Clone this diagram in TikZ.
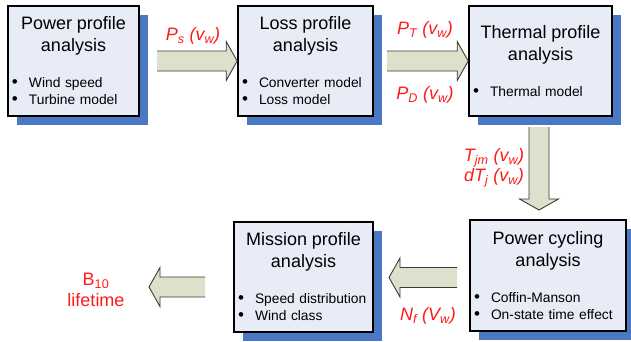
\documentclass[tikz,border=0pt]{standalone}
\usepackage{fontspec}
\setmainfont{Liberation Sans}
\usepackage{tikz}
\usetikzlibrary{calc,shadows}
\definecolor{boxfill}{HTML}{E7ECF7}
\definecolor{boxshadow}{HTML}{4A78C2}
\definecolor{arrowfill}{HTML}{DCE1CB}
\definecolor{arrowline}{HTML}{3A3A3A}
\definecolor{labelred}{HTML}{FF1A1A}
\tikzset{
  stage/.style   = {draw, line width=1.6pt, fill=boxfill, rectangle,
                    drop shadow={shadow xshift=9pt, shadow yshift=-9pt,
                                 fill=boxshadow, opacity=1},
                    inner xsep=4pt, inner ysep=0pt, text width=#1,
                    minimum height=110pt, align=left,
                    font=\fontsize{13.8}{17}\selectfont},
  quantity/.style = {text=labelred, align=center,
                    font=\fontsize{18}{20}\selectfont\itshape},
  shaftline/.style = {draw=arrowline, line width=0.9pt, line join=miter},
}
\newcommand{\stagehead}[1]{{\centering\fontsize{18}{22}\selectfont #1\par}\vspace{19pt}}
\newcommand{\stageitem}[1]{\makebox[17pt][l]{\fontsize{17}{17}\selectfont\textbullet}#1\par}
\newcommand{\fatarrow}[2]{%
  \coordinate (fa-base) at ($(#2)!11pt!(#1)$);
  \fill[arrowfill] ($(#1)!10pt!90:(#2)$) -- ($(fa-base)!10pt!90:(#2)$)
    -- ($(fa-base)!19.5pt!90:(#2)$) -- (#2) -- ($(fa-base)!19.5pt!-90:(#2)$)
    -- ($(fa-base)!10pt!-90:(#2)$) -- ($(#1)!10pt!-90:(#2)$) -- cycle;
  \draw[shaftline] ($(#1)!10pt!90:(#2)$) -- ($(fa-base)!10pt!90:(#2)$)
    -- ($(fa-base)!19.5pt!90:(#2)$) -- (#2) -- ($(fa-base)!19.5pt!-90:(#2)$)
    -- ($(fa-base)!10pt!-90:(#2)$) -- ($(#1)!10pt!-90:(#2)$);}

\begin{document}
\begin{tikzpicture}[x=1pt,y=-1pt]
\useasboundingbox (0,0) rectangle (631,341);
\node[stage=123pt] (power) at (73.5,61)
  {\stagehead{Power profile\\analysis}\stageitem{Wind speed}\stageitem{Turbine model}};
\node[stage=127pt] (loss) at (305.5,61)
  {\stagehead{Loss profile\\analysis}\stageitem{Converter model}\stageitem{Loss model}};
\node[stage=135pt] (thermal) at (540.5,61)
  {\stagehead{Thermal profile\\analysis}\stageitem{Thermal model}};
\node[stage=148pt, minimum height=111pt] (cycling) at (548,275.5)
  {\stagehead{Power cycling\\analysis}\stageitem{Coffin-Manson}\stageitem{On-state time effect}};
\node[stage=131pt] (mission) at (303.5,277)
  {\stagehead{Mission profile\\analysis}\stageitem{Speed distribution}\stageitem{Wind class}};
\coordinate (a1) at (157,61);
\coordinate (a2) at (387,61);
\coordinate (a3t) at (539,127);
\coordinate (a3h) at (539,210);
\coordinate (a4t) at (457,277.5);
\coordinate (a4h) at (389,277.5);
\coordinate (a5t) at (205,287);
\coordinate (a5h) at (149,287);
\fatarrow{a1}{loss.west}
\fatarrow{a2}{thermal.west}
\fatarrow{a3t}{a3h}
\fatarrow{a4t}{a4h}
\fatarrow{a5t}{a5h}
\node[quantity] (ps) at (193,36) {P\textsubscript{s} (v\textsubscript{w})};
\node[quantity] (pt) at (425,30) {P\textsubscript{T} (v\textsubscript{w})};
\node[quantity] (pd) at (425,95) {P\textsubscript{D} (v\textsubscript{w})};
\node[quantity] (tj) at (494,168) {T\textsubscript{jm} (v\textsubscript{w})\\dT\textsubscript{j} (v\textsubscript{w})};
\node[quantity] (nf) at (428,316) {N\textsubscript{f} (V\textsubscript{w})};
\node[quantity, font=\fontsize{18}{21}\selectfont] (life) at (96,290) {B\textsubscript{10}\\lifetime};
\end{tikzpicture}
\end{document}
